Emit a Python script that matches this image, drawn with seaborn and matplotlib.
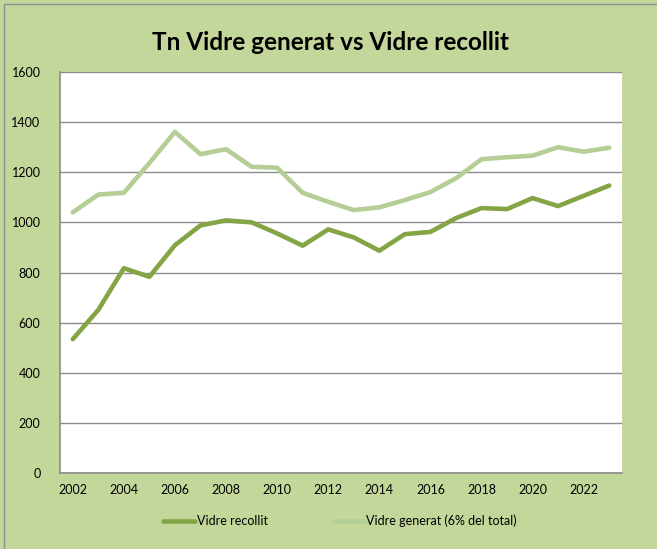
import pandas as pd
import matplotlib.pyplot as plt
import matplotlib.patches as mpatches
import seaborn as sns

# Data
years = list(range(2002, 2024))
vidre_recollit = [534, 651, 817, 783, 909, 988, 1008, 1000, 956, 907, 972, 940,
                  887, 953, 962, 1017, 1057, 1053, 1097, 1065, 1106, 1147]
vidre_generat = [1040, 1111, 1118, 1237, 1361, 1272, 1292, 1222, 1218, 1118, 1082, 1049,
                 1060, 1089, 1121, 1176, 1252, 1260, 1266, 1300, 1282, 1298]
series_names = ["Vidre recollit", "Vidre generat (6% del total)"]
y_ticks = [0, 200, 400, 600, 800, 1000, 1200, 1400, 1600]
x_ticks = list(range(2002, 2023, 2))

DAT = pd.DataFrame({
    "any": years * 2,
    "tn": vidre_recollit + vidre_generat,
    "serie": [series_names[0]] * len(years) + [series_names[1]] * len(years),
})

sns.set_style("white")
plt.rcParams["font.family"] = ["Lato", "DejaVu Sans"]
plt.rcParams["text.color"] = "black"

BG = "#C4D79B"
fig = plt.figure(figsize=(6.57, 5.49), dpi=100, facecolor=BG)
ax = fig.add_axes([60 / 657, 1 - 473 / 549, 562 / 657, 401 / 549])
ax.set_facecolor("white")

# thin outer border (left/top only visible in the reference)
fig.patches.append(mpatches.Rectangle((4 / 657, -0.1), 1.2, 1 - 4 / 549 + 0.1,
                                      transform=fig.transFigure, fill=False,
                                      edgecolor="#8C8C8C", lw=1.0))

sns.lineplot(data=DAT, x="any", y="tn", hue="serie", hue_order=series_names,
             palette=["#84A545", "#B5CE96"], lw=3.3, ax=ax, legend=True)
ax.lines[0].set_zorder(4)

ax.set_ylim(0, 1600)
ax.set_xlim(2001.5, 2023.5)
ax.set_yticks(y_ticks)
ax.set_xticks(x_ticks)
ax.yaxis.grid(True, color="#8C8C8C", lw=1.0)
ax.set_axisbelow(True)
ax.tick_params(axis="both", length=0, labelsize=9, colors="black", pad=8)
ax.tick_params(axis="y", pad=14)
ax.set_xlabel("")
ax.set_ylabel("")
for side in ["top", "right"]:
    ax.spines[side].set_visible(False)
for side in ["left", "bottom"]:
    ax.spines[side].set_color("#8C8C8C")
    ax.spines[side].set_linewidth(1.2)

fig.suptitle("Tn Vidre generat vs Vidre recollit", x=330 / 657, y=1 - 42 / 549,
             va="center", fontsize=17.5, fontweight="bold", color="black")

leg = ax.legend(loc="center", bbox_to_anchor=(340 / 657, 1 - 521 / 549),
                bbox_transform=fig.transFigure, ncol=2, frameon=False, fontsize=9,
                handlelength=2.6, handletextpad=0.1, columnspacing=5.2)
for t in leg.get_texts():
    t.set_color("black")

fig.savefig("out.png", dpi=100, facecolor=BG)
